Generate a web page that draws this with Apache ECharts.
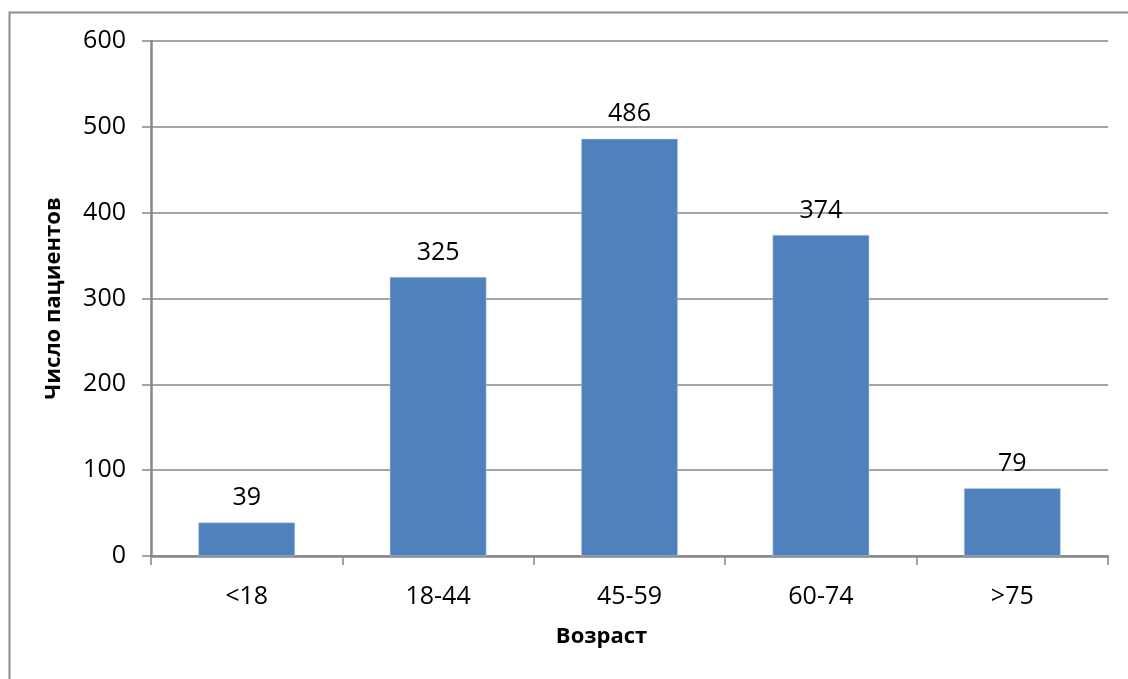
<!DOCTYPE html>
<html>
<head>
<meta charset="utf-8">
<script src="https://cdn.jsdelivr.net/npm/echarts@6/dist/echarts.min.js"></script>
<style>
html,body{margin:0;padding:0;background:#fff;}
#c{width:1128px;height:679px;}
</style>
</head>
<body>
<div id="c"></div>
<script>
const categories = ['<18', '18-44', '45-59', '60-74', '>75'];
const patients = [39, 325, 486, 374, 79];
const yTicks = [0, 100, 200, 300, 400, 500, 600];
const xTitle = 'Возраст';
const yTitle = 'Число пациентов';

const chart = echarts.init(document.getElementById('c'), null, {renderer: 'canvas'});
const font = 'Open Sans';
chart.setOption({
  animation: false,
  backgroundColor: '#fff',
  graphic: [{
    type: 'rect', left: 7, top: 10,
    shape: {width: 1200, height: 700},
    style: {fill: 'none', stroke: '#8c8c8c', lineWidth: 2},
    silent: true
  }],
  grid: {left: 151, top: 41, right: 20, bottom: 123, containLabel: false},
  xAxis: {
    type: 'category',
    data: categories,
    name: xTitle,
    nameLocation: 'middle',
    nameGap: 70,
    nameTextStyle: {fontFamily: font, fontSize: 22, fontWeight: 'bold', color: '#000', padding: [0, 56, 0, 0]},
    axisLine: {lineStyle: {color: '#878787', width: 2.5}},
    axisTick: {show: true, alignWithLabel: false, length: 9, lineStyle: {color: '#878787', width: 1.5}},
    axisLabel: {fontFamily: font, fontSize: 25, color: '#000', margin: 28}
  },
  yAxis: {
    type: 'value',
    min: yTicks[0],
    max: yTicks[yTicks.length - 1],
    interval: yTicks[1] - yTicks[0],
    name: yTitle,
    nameLocation: 'middle',
    nameGap: 86,
    nameRotate: 90,
    nameTextStyle: {fontFamily: font, fontSize: 22, fontWeight: 'bold', color: '#000'},
    axisLine: {show: true, lineStyle: {color: '#878787', width: 2.5}},
    axisTick: {show: true, length: 9, lineStyle: {color: '#878787', width: 1.5}},
    axisLabel: {fontFamily: font, fontSize: 25, color: '#000', margin: 25},
    splitLine: {show: true, lineStyle: {color: '#878787', width: 1.5}}
  },
  series: [{
    type: 'bar',
    data: patients,
    barWidth: '50.5%',
    itemStyle: {color: '#4F81BD', borderColor: '#c6d3e6', borderWidth: 0.5},
    label: {show: true, position: 'top', distance: 12, fontFamily: font, fontSize: 25, color: '#000'}
  }]
});
</script>
</body>
</html>
